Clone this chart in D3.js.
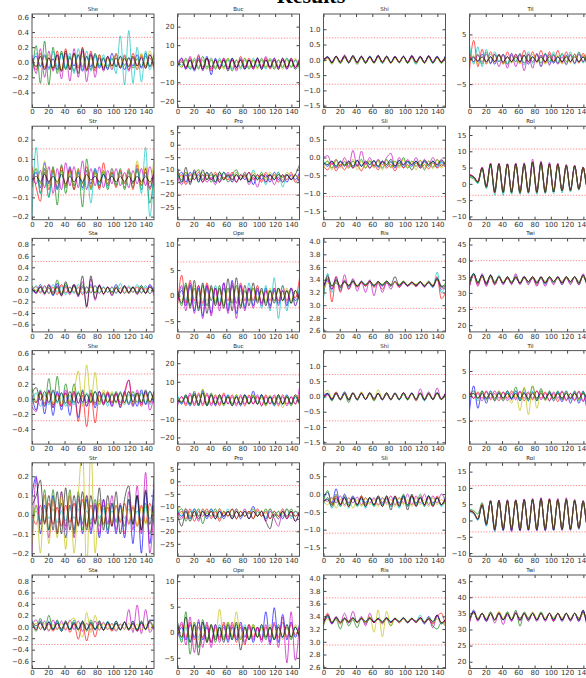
<!DOCTYPE html>
<html>
<head>
<meta charset="utf-8">
<script src="https://cdn.jsdelivr.net/npm/d3@7"></script>
<style>
  body { margin: 0; background: #fff; }
  svg { display: block; }
  .tick text { font-family: "DejaVu Sans", sans-serif; fill: #333; }
</style>
</head>
<body>
<script>
// sample positions along the time axis
var xs = [0,5.2,10.3,15.5,20.7,25.9,31,36.2,41.4,46.6,51.7,56.9,62.1,67.2,72.4,77.6,82.8,87.9,93.1,98.3,103.4,108.6,113.8,119,124.1,129.3,134.5,139.7,144.8,150];
var xTicks = [0,20,40,60,80,100,120,140];

var titles = ["She","Buc","Shi","Til","Str","Pro","Sli","Rol","Sta","Ope","Ris","Twi"];
var yDomains = [[-0.6,0.64],[-23.6,26.8],[-1.56,1.5],[-9.7,9.1],[-0.216,0.27],[-30,7.4],[-1.75,0.88],[-11,17.7],[-0.73,0.905],[-7.1,11.2],[2.58,4.05],[17.9,46.9]];
var yTicks = [[-0.4,-0.2,0,0.2,0.4,0.6],[-20,-10,0,10,20],[-1.5,-1,-0.5,0,0.5,1],[-5,0,5],[-0.2,-0.1,0,0.1,0.2],[-25,-20,-15,-10,-5,0,5],[-1.5,-1,-0.5,0,0.5],[-10,-5,0,5,10,15],[-0.6,-0.4,-0.2,0,0.2,0.4,0.6,0.8],[-5,0,5,10],[2.6,2.8,3,3.2,3.4,3.6,3.8,4],[20,25,30,35,40,45]];
var yDecimals = [1,0,1,0,1,0,1,0,1,0,1,0];
var limits = [[0.33,-0.29],[13.8,-11.2],[0.72,-0.8],[4.3,-5],[0.152,-0.087],[-1.7,-20],[0.24,-1.1],[10.7,-3.5],[0.5,-0.31],[6.6,-2.4],[3.69,2.95],[40,25.4]];

var colors = ["#0000ff","#008000","#ff0000","#00bfbf","#bf00bf","#bfbf00","#000000"];

// each panel: 7 runs (b, g, r, c, m, y, k)
var she1 = [
 [0,.08,-.06,.1,-.08,.05,-.1,.12,-.08,.06,-.05,.1,-.12,.08,-.06,.1,-.08,.05,-.1,.12,-.06,.08,-.1,.06,-.05,.1,-.08,.12,-.06,.08],
 [-.2,.22,-.28,.28,-.3,.2,-.15,.15,-.1,.08,-.12,.1,-.06,.08,-.1,.12,-.05,.06,-.08,.05,-.06,.08,-.04,.06,-.08,.05,-.06,.08,-.05,.1],
 [.05,-.1,.12,-.08,.06,-.1,.15,-.12,.18,-.1,.12,-.08,.2,-.1,.15,-.12,.1,-.08,.06,-.05,.1,-.06,.08,-.1,.12,-.05,.1,-.08,.06,-.1],
 [-.1,.12,-.05,.08,-.1,.15,-.06,.1,-.08,.12,-.15,.18,-.1,.15,-.12,.08,-.06,.1,-.05,.06,-.15,.35,-.3,.42,-.28,.2,-.26,.15,-.1,.12],
 [.1,-.15,.18,-.2,.15,-.12,.1,-.22,.12,-.25,.18,-.2,.15,-.26,.12,-.2,.1,-.12,.08,-.1,.12,-.08,.1,-.12,.06,-.1,.08,-.05,.1,-.06],
 [.02,-.05,.08,-.06,.1,-.08,.05,-.1,.08,-.06,.1,-.05,.08,-.1,.06,-.08,.1,-.06,.05,-.08,.12,-.06,.1,-.05,.08,-.1,.12,-.06,.15,-.08],
 [.05,-.06,.08,-.1,.06,-.08,.1,-.12,.15,-.1,.12,-.15,.18,-.12,.1,-.08,.06,-.1,.08,-.05,.06,-.08,.05,-.06,.08,-.05,.06,-.08,.1,-.06]
];
var buc1 = [
 [-2,3,-3,2,-4,3,-3,4,-6,3,-2,2,-3,3,-2,2,-3,2,-2,3,-3,2,-2,3,-2,2,-3,3,-2,2],
 [1,-2,3,-3,2,-3,4,-2,3,-3,2,-2,3,-4,2,-2,3,-3,2,-2,3,-2,2,-3,2,-2,3,-2,2,-3],
 [-1,2,-2,3,-3,4,-2,3,-4,2,-3,3,-2,2,-3,4,-2,3,-3,2,-2,3,-3,2,-3,2,-2,3,-2,2],
 [2,-1,2,-3,3,-2,2,-3,2,-2,3,-2,2,-3,2,-3,2,-2,3,-2,2,-3,3,-2,2,-2,3,-2,2,-2],
 [0,3,-3,4,-3,5,-4,3,-3,2,-2,3,-3,2,-4,3,-2,2,-3,3,-2,4,-2,3,-2,3,-3,2,-2,3],
 [1,-2,2,-2,3,-2,2,-3,2,-2,2,-3,3,-2,2,-2,3,-2,2,-3,2,-2,3,-2,2,-3,2,-2,3,-2],
 [-1,1,-2,2,-3,2,-3,3,-2,2,-3,2,-4,3,-2,2,-3,2,-2,3,-3,2,-2,2,-3,3,-2,2,-3,2]
];
var shi1 = [
 [0,.1,-.08,.12,-.1,.15,-.1,.12,-.08,.1,-.1,.12,-.08,.15,-.1,.12,-.08,.1,-.1,.12,-.1,.15,-.08,.12,-.1,.14,-.08,.12,-.1,.15],
 [-.05,.08,-.1,.1,-.12,.1,-.08,.12,-.1,.08,-.12,.1,-.08,.1,-.1,.08,-.1,.1,-.08,.1,-.1,.08,-.12,.1,-.08,.1,-.1,.08,-.1,.1],
 [.02,.06,-.1,.1,-.05,.15,-.08,.08,-.1,.1,-.06,.1,-.1,.12,-.06,.1,-.1,.08,-.06,.1,-.08,.12,-.06,.1,-.08,.12,-.1,.08,-.06,.1],
 [-.08,.1,-.12,.08,-.1,.12,-.1,.08,-.15,.1,-.08,.12,-.1,.1,-.12,.1,-.08,.12,-.1,.1,-.12,.08,-.15,.1,-.1,.08,-.12,.1,-.1,.12],
 [0,.08,-.06,.1,-.08,.12,-.05,.1,-.1,.12,-.08,.1,-.06,.12,-.08,.1,-.1,.12,-.08,.1,-.06,.12,-.1,.1,-.08,.12,-.06,.1,-.08,.1],
 [-.1,.05,-.15,.08,-.12,.06,-.1,.08,-.15,.06,-.1,.05,-.12,.08,-.1,.06,-.12,.05,-.1,.08,-.12,.06,-.1,.05,-.12,.08,-.1,.06,-.12,.05],
 [-.02,.1,-.1,.12,-.08,.1,-.1,.15,-.08,.12,-.1,.1,-.1,.14,-.08,.12,-.1,.1,-.08,.12,-.1,.12,-.08,.1,-.1,.12,-.1,.1,-.08,.12]
];
var til1 = [
 [0,.5,-.5,1,-.5,.5,-1,1,-.8,.5,-.5,1,-.5,.8,-1,.5,-.5,.8,-.5,1,-.8,.5,-.5,.8,-.5,1,-.5,.5,-.8,1],
 [1.5,-.5,1,-1,1.5,-.8,1,-.5,1,-1,.8,-.5,1.2,-.8,1,-.5,1,-.8,1.2,-.5,1,-.8,1.2,-.5,1,-.8,1.5,-.5,1,-.8],
 [-2.2,3.8,-1.5,2,-1,1.5,-.5,1,-1,1.5,-.5,1,-.8,1.8,-.5,1.5,-.5,1.8,-.8,1.5,-.5,1.8,-.8,1.5,-.5,1,-.8,1.2,-.5,1],
 [3,-1,2.5,-1.5,2,-1,1.5,-.5,1,-1,1.2,-.5,1,-1.2,1.5,-.8,1,-1.5,1.2,-1,1.5,-.8,1,-1.2,1.5,-1,1.2,-.8,1.5,-1],
 [.5,-.5,.8,-.5,1,-.8,1,-1.5,1,-1.8,1.2,-1.5,1,-2.3,1,-1.8,1.2,-1.5,1,-1.2,.8,-1,.5,-1,.8,-.8,1,-.5,.8,-.5],
 [-.5,.8,-1,.5,-.8,1,-.5,.8,-1,.5,-.8,.5,-1,.8,-.5,1,-.8,.5,-1,.8,-.5,.8,-1,.5,-.8,1,-.5,.8,-1,.5],
 [0,.3,-.3,.5,-.5,.5,-.5,.8,-.5,.5,-.5,.5,-.5,.8,-.5,.5,-.5,.5,-.5,.5,-.5,.5,-.5,.5,-.5,.5,-.5,.5,-.5,.5]
];
var str2 = [
 [-.02,.03,-.05,.08,-.03,.05,-.06,.04,-.05,.06,-.04,.03,-.05,.04,-.03,.05,-.04,.02,-.03,.05,-.04,.03,-.05,.04,-.03,.05,-.04,.03,-.05,.04],
 [-.05,.05,-.08,.03,-.1,.06,-.14,.07,-.08,.04,-.06,.05,-.15,.1,-.06,.03,-.05,.04,-.06,.03,-.04,.05,-.06,.03,-.05,.04,-.06,.05,-.13,.03],
 [.06,-.05,-.12,.05,-.06,.04,-.05,.06,-.04,.05,-.06,.04,-.03,.06,-.05,.04,-.06,.08,-.04,.03,-.05,.04,-.03,.05,-.06,.07,-.04,.05,-.06,.04],
 [-.2,.16,-.08,.05,-.1,.03,-.06,.04,-.05,.02,-.04,.03,-.06,.04,-.13,.05,-.04,.03,-.05,.02,-.04,.03,-.05,.04,-.03,.05,-.08,.16,-.2,.05],
 [.02,-.03,.04,-.05,.06,-.08,.05,-.06,.08,-.04,.06,-.05,.09,-.06,.05,-.04,.06,-.05,.04,-.03,.05,-.04,.03,-.05,.04,-.03,.05,-.04,.06,-.05],
 [.02,.05,-.03,.09,-.04,.05,-.03,.04,-.05,.03,-.04,.05,-.03,.04,-.05,.03,-.02,.04,-.03,.05,-.04,.03,-.05,.04,-.03,.09,-.04,.06,-.03,.1],
 [-.01,.01,-.02,.02,-.02,.01,-.02,.02,-.03,.01,-.02,.01,-.02,.02,-.01,.01,-.02,.02,-.01,.01,-.02,.01,-.02,.01,-.02,.01,-.02,.01,-.02,.02]
];
var pro2 = [
 [-13,-11,-15,-11,-14,-12,-15,-11,-14,-12,-15,-11,-13,-12,-15,-12,-14,-11,-16,-12,-14,-12,-15,-11,-14,-12,-15,-12,-14,-11],
 [-12,-14,-11,-15,-12,-10,-14,-11,-15,-12,-14,-11,-15,-12,-10,-14,-12,-15,-12,-14,-11,-15,-12,-14,-11,-15,-12,-14,-12,-15],
 [-14,-12,-16,-12,-14,-11,-15,-12,-14,-11,-15,-13,-14,-11,-15,-12,-13,-11,-14,-12,-15,-11,-14,-12,-15,-12,-14,-11,-15,-12],
 [-12,-15,-12,-14,-11,-15,-12,-14,-12,-15,-11,-14,-12,-15,-11,-14,-12,-15,-10,-14,-12,-16,-12,-14,-11,-17,-12,-14,-12,-15],
 [-13,-16,-12,-15,-11,-14,-12,-15,-13,-16,-12,-14,-11,-15,-12,-14,-12,-16,-13,-17,-12,-15,-12,-16,-13,-15,-12,-14,-12,-15],
 [-11,-13,-11,-14,-12,-13,-11,-14,-12,-13,-11,-14,-12,-14,-11,-13,-12,-14,-11,-13,-12,-14,-11,-13,-12,-14,-11,-13,-12,-14],
 [-9,-15,-9,-16,-10,-15,-10,-14,-11,-15,-11,-14,-12,-14,-12,-14,-11,-15,-12,-14,-12,-13,-12,-14,-12,-13,-12,-14,-12,-8]
];
var sli2 = [
 [-.15,-.25,-.1,-.3,-.12,-.25,-.1,-.3,-.08,-.25,-.12,-.3,-.1,-.28,-.1,-.25,-.12,-.3,-.08,-.28,-.12,-.25,-.1,-.3,-.12,-.25,-.1,-.28,-.12,-.25],
 [-.2,-.1,-.3,-.08,-.25,-.12,-.3,-.1,-.25,-.05,-.3,-.1,-.25,-.08,-.3,-.05,-.28,-.1,-.25,0,-.3,-.1,-.25,-.08,-.35,-.1,-.28,-.05,-.25,-.1],
 [-.25,-.35,-.15,-.38,-.2,-.35,-.15,-.3,-.2,-.38,-.15,-.3,-.2,-.35,-.12,-.3,-.2,-.38,-.15,-.3,-.2,-.35,-.15,-.3,-.2,-.32,-.15,-.3,-.2,-.28],
 [-.1,-.2,-.12,-.25,-.1,-.2,-.15,-.25,-.1,-.22,-.15,-.2,-.1,-.25,-.12,-.2,-.1,-.25,-.15,-.2,-.1,-.35,-.12,-.2,-.1,-.25,-.12,-.2,-.15,-.25],
 [0,.05,-.2,-.05,-.25,0,-.25,.2,-.25,.18,-.2,0,-.25,-.05,-.2,0,.12,-.25,0,-.2,-.05,-.2,0,-.25,-.05,-.2,0,-.2,-.05,-.25],
 [-.3,-.1,-.35,-.05,-.3,-.1,-.3,-.05,-.35,-.1,-.3,-.08,-.3,-.1,-.35,-.08,-.3,-.1,-.3,-.05,-.3,-.1,-.35,-.08,-.3,-.1,-.32,-.05,-.3,-.1],
 [-.15,-.2,-.1,-.25,-.1,-.22,-.1,-.25,-.08,-.25,-.1,-.2,-.08,-.25,-.1,-.2,-.05,-.25,-.08,-.22,-.1,-.2,-.1,-.25,-.08,-.2,-.1,-.22,-.08,-.2]
];
var rol2 = [
 [2.5,2,.5,4.8,-1,6,-2.5,6,-2.5,6,-2.5,6,-2.5,6,-2.5,6.5,-2.5,6.5,-2.5,6,-2.5,6,-2,5.5,-2,5.5,-1.5,5,-1,1],
 [2,1.5,.3,4.5,-1.2,5.5,-2,5.8,-2.2,6,-2,5.8,-2.5,5.5,-2,6,-2.2,6,-2,5.8,-2,5.5,-2,5.5,-1.8,5.2,-1.5,5,-.8,.5],
 [3,2.2,.8,5,-.8,6.2,-2.8,6.2,-2.8,6,-2.8,6.2,-3,6,-2.8,6.8,-2.8,6.5,-2.8,6.2,-2.5,6.2,-2.2,5.8,-2.2,5.5,-1.8,5,-1,1.2],
 [2.2,1.8,0,4.6,-1.5,5.8,-3.5,6,-3.5,5.8,-3.2,6,-3.2,6.2,-3,6.5,-3.2,6.2,-3,6,-3,5.8,-2.8,5.5,-2.5,5.2,-2,4.8,-1.2,.8],
 [2.8,2.2,.6,5.2,-.5,6.4,-2.2,6.4,-2,6.2,-2.2,6.4,-2,6.5,-2.2,7.6,-2,7,-2.2,6.6,-2,6.3,-1.8,6,-1.8,5.8,-1.5,5.2,-.8,1.5],
 [2.4,2,.4,4.7,-1.1,5.9,-2.4,5.9,-2.4,5.9,-2.4,5.9,-2.6,5.9,-2.4,6.3,-2.4,6.3,-2.4,6,-2.4,5.9,-2.1,5.6,-2,5.4,-1.6,5,-1,1],
 [2.6,2.1,.5,4.9,-1,6.1,-2.6,6.1,-2.6,6.1,-2.6,6.1,-2.7,6.1,-2.6,6.6,-2.6,6.5,-2.6,6.1,-2.5,6,-2.1,5.6,-2,5.5,-1.6,5,-1,1]
];
var sta3 = [
 [.05,-.05,.1,-.05,.08,-.1,.12,-.06,.08,-.05,.1,-.08,.05,-.06,.1,-.05,.08,-.06,.05,-.04,.1,-.05,.08,-.06,.05,-.04,.08,-.05,.1,-.04],
 [.08,-.02,.05,-.06,.1,-.04,.18,-.08,.12,-.05,.1,-.06,.08,-.04,.06,-.05,.08,-.06,.05,-.04,.06,-.05,.08,-.04,.06,-.05,.08,-.06,.05,-.02],
 [0,.06,-.05,.08,-.06,.05,-.08,.1,-.05,.06,-.04,.05,-.08,.06,-.05,.08,-.06,.05,-.04,.06,-.05,.04,-.06,.05,-.04,.06,-.05,.04,-.06,.05],
 [-.05,.08,-.03,.06,-.05,.1,-.04,.06,-.08,.05,-.06,.1,-.05,.06,-.04,.08,-.05,.06,-.04,.05,-.06,.12,-.05,.08,-.04,.1,-.05,.08,-.06,.05],
 [.03,-.06,.05,-.08,.1,-.05,.08,-.1,.05,-.08,.1,-.12,.15,-.28,.2,-.18,.1,-.08,.06,-.1,.05,-.06,.08,-.05,.06,-.08,.05,-.06,.08,-.1],
 [.05,0,.06,-.04,.05,-.06,.04,-.05,.06,-.04,.05,-.06,.04,-.05,.06,-.04,.05,-.06,.04,-.05,.06,-.04,.05,-.06,.04,-.05,.06,-.04,.05,-.06],
 [.02,-.04,.06,-.05,.04,-.08,.06,-.1,.15,-.05,.08,-.1,.25,-.3,.25,-.15,.08,-.06,.05,-.08,.04,-.05,.06,-.04,.05,-.06,.04,-.05,.06,-.04]
];
var ope3 = [
 [-1,1,-2,2,-3,1.5,-4,2,-3.5,1.5,-2,2.5,-3,3,-3.5,2,-2.5,1.5,-2,1,-1.5,1.5,-2,1,-1.5,1,-2,1.5,-1,.5],
 [1,-2,2.5,-2,1.5,-2.5,2,-2,1.5,-1.5,2,-2,1.5,-1.5,2,-2,1,-1,1.5,-1,1,-1.5,1,-1,1.5,-1,1,-1.5,1,-1],
 [-2,4,-1.5,3,-1,2,-1.5,2.5,-1,1.5,-2,1.5,-1,2,-1.5,2.5,-1,1.5,-1,2,-1.5,1,-1,1.5,-1,2,-1,1.5,-.5,3.5],
 [0,1.5,-1,2,-1.5,1,-2,1.5,-1,2,-1.5,1.5,-2,2,-1.5,1,-2,2.5,-2,1.5,-2.5,2,-3,3.5,-4.5,2,-3,1.5,-2,2],
 [-1.5,2,-3,2.5,-3.5,2,-4.5,2,-4,1.5,-3,2.5,-3.5,2.5,-4.5,2,-3,1.5,-2.5,1.5,-2,1,-2.5,1.5,-2,1,-1.5,1.5,-2,1],
 [.5,-1,1.5,-1,2,-1.5,1,-1,1.5,-1,1,-1.5,1,-1,1.5,-1,1,-1,1.5,-1,1,-1,1.5,-1,1,-1,1.5,-1,1,-1],
 [1,-1.5,2,-2.5,3,-3,2.5,-3.5,2,-2,1.5,-2.5,3.3,-3,3.5,-2.5,2,-2,2.5,-1.5,1.5,-2,1,-1.5,1.5,-1,1,-1.5,1,-1]
];
var ris3 = [
 [3.3,3.4,3.25,3.38,3.28,3.36,3.3,3.37,3.3,3.36,3.3,3.37,3.3,3.36,3.3,3.37,3.31,3.36,3.31,3.37,3.3,3.36,3.31,3.37,3.3,3.36,3.28,3.42,3.3,3.25],
 [3.2,3.42,3.3,3.35,3.28,3.38,3.3,3.4,3.3,3.36,3.32,3.38,3.3,3.37,3.31,3.38,3.3,3.37,3.32,3.38,3.31,3.36,3.32,3.37,3.3,3.38,3.3,3.4,3.28,3.35],
 [3.15,3.48,3.05,3.45,3.2,3.4,3.25,3.36,3.28,3.35,3.3,3.36,3.28,3.34,3.25,3.35,3.3,3.36,3.28,3.35,3.3,3.34,3.29,3.36,3.3,3.35,3.3,3.45,3.1,3.2],
 [3.1,3.5,3.2,3.42,3.25,3.38,3.28,3.36,3.3,3.38,3.32,3.36,3.3,3.37,3.31,3.36,3.3,3.37,3.31,3.36,3.3,3.35,3.31,3.36,3.3,3.35,3.28,3.52,3.2,3.3],
 [3.3,3.38,3.25,3.45,3.22,3.48,3.25,3.42,3.22,3.38,3.2,3.4,3.15,3.38,3.2,3.36,3.25,3.38,3.28,3.36,3.3,3.37,3.3,3.36,3.28,3.37,3.3,3.4,3.25,3.3],
 [3.25,3.35,3.3,3.38,3.3,3.36,3.32,3.37,3.31,3.36,3.32,3.37,3.32,3.36,3.33,3.37,3.32,3.36,3.33,3.37,3.32,3.36,3.33,3.37,3.32,3.36,3.32,3.4,3.3,3.25],
 [3.28,3.45,3.3,3.4,3.3,3.37,3.31,3.38,3.3,3.37,3.32,3.38,3.31,3.37,3.32,3.38,3.32,3.45,3.3,3.37,3.31,3.36,3.31,3.37,3.3,3.36,3.3,3.42,3.3,3.3]
];
var twi3 = [
 [32.5,36,33,35.5,32.5,35.5,33,35,33,35,33,34.5,33,35,33.5,35,33.5,34.5,33,35,33.5,34.5,33.5,35,33.5,35,33,35.5,33,35],
 [33,35.5,33.5,35,33,35.5,33.5,35,33,34.5,33.5,35,33,34.5,33.5,35,33,34.5,33.5,35,33.5,34.5,33,35,33.5,35,33.5,35,33,35.5],
 [32,35.5,32.5,35,32.5,35,32.5,35,33,34.5,33,35,33,35,33,34.5,32.5,35,33,35,33,35,33,34.5,33,35,32.5,35.5,33,35],
 [32.5,36,33,35.5,33,35,33,35.5,33,35,33,35.5,33,35,33,35,33,35,32.5,35,33,35,32.5,35,33,35,32.5,35.5,32.5,35],
 [32,35.5,32,36,32,35.5,32.5,35,32.5,35,32.5,36,32.5,35,32.5,35,32,35,32,34.5,32.5,35,32.5,35,32.5,35,32.5,36,32.5,35],
 [33,35.5,33,35,33.5,35,33,35,33.5,35,33,35,33.5,34.5,33.5,35,33.5,34.5,33.5,35,33.5,34.5,33.5,35,33.5,35,33,35.5,33,35],
 [33,36,33,35.5,33,35.5,33,35,33,35,33,35,33,35,33.5,35,33,35,33,35,33.5,35,33,35,33.5,35,33,35.5,33,35.5]
];
var she4 = [
 [.05,-.15,.1,-.2,.12,-.22,.1,-.15,.08,-.22,.1,-.25,.12,-.1,.08,-.12,.1,-.08,.06,-.1,.08,-.12,.1,-.08,.06,-.1,.12,-.08,.1,-.06],
 [.15,-.05,.12,-.1,.27,-.12,.3,-.1,.2,-.05,.2,-.06,.1,-.05,.12,-.06,.1,-.05,.08,-.06,.1,-.05,.08,-.06,.1,-.05,.08,-.06,.1,-.05],
 [0,-.05,.08,-.06,.1,-.08,.06,-.1,.08,-.1,.1,-.3,.05,-.37,.08,-.32,.05,-.08,.1,-.05,.08,-.1,.06,.25,-.08,.06,-.1,.08,-.06,.1],
 [-.05,.08,-.1,.06,-.08,.1,-.06,.08,-.1,.05,-.08,.1,-.06,.08,-.05,.1,-.08,.06,-.1,.08,-.06,.1,-.08,.06,-.1,.08,-.06,.1,-.08,.06],
 [-.1,-.17,.08,-.1,.1,-.12,.08,-.1,.12,-.08,.1,-.06,.08,-.1,.06,-.08,.1,-.06,.08,-.1,.06,-.08,.1,.25,-.1,.12,-.08,.1,-.15,.05],
 [.05,-.02,.06,-.05,.08,-.06,.05,-.08,.06,-.05,.1,.37,-.1,.45,-.05,.35,-.08,.12,-.05,.1,-.06,.08,-.05,.1,-.06,.08,-.05,.06,-.04,.08],
 [.08,.15,-.02,.1,-.05,.12,-.04,.08,-.06,.1,-.05,.08,-.04,.06,-.05,.1,-.04,.08,-.05,.06,-.04,.08,-.05,.1,-.04,.08,-.05,.12,-.04,.1]
];
var buc4 = [
 [1,-2,3,-3,4,-3,5,-2,3,-3,2,-2,3,-2,2,-3,3,-2,5,-2,3,-2,2,-3,2,-2,3,-2,2,-2],
 [2,-1,3,-2,5,-3,6,-3,4,-2,3,-2,2,-3,3,-2,2,-2,3,-2,2,-3,2,-2,3,-2,2,-3,2,-2],
 [-1,2,-3,3,-2,4,-3,3,-2,3,-3,4,-2,3,-2,2,-3,3,-2,2,-3,3,-2,2,-3,3,-2,2,-2,3],
 [3,-2,2,-3,3,-2,4,-3,3,-2,2,-3,3,-2,2,-2,3,-2,2,-2,3,-2,2,-3,2,-2,3,-2,2,-2],
 [-3,2,-2,4,-3,3,-2,4,-3,2,-2,3,-2,2,-3,3,-2,2,-2,3,-3,2,-2,3,-2,2,-3,2,-2,7],
 [1,-1,2,-2,3,-2,6,-2,3,-2,2,-3,2,-2,3,-2,2,-2,3,-2,2,-3,3,-2,2,-4,2,-2,3,-2],
 [0,-1,2,-2,3,-2,4,-3,3,-2,3,-2,2,-3,2,-2,3,-2,2,-2,3,-2,2,-2,3,-2,2,-2,3,-2]
];
var shi4 = [
 [.05,.1,-.1,.12,-.08,.15,-.1,.12,-.12,.1,-.1,.12,-.08,.1,-.12,.1,-.08,.12,-.1,.1,-.08,.12,-.1,.1,-.12,.1,-.08,.12,-.1,.1],
 [-.05,.08,-.15,.1,-.12,.08,-.2,.1,-.1,.12,-.1,.08,-.15,.1,-.1,.08,-.12,.1,-.1,.08,-.12,.1,-.08,.1,-.12,.08,-.1,.1,-.08,.1],
 [0,.06,-.08,.15,-.1,.12,-.08,.1,-.12,.1,-.08,.12,-.1,.1,-.08,.12,-.1,.08,-.1,.12,-.08,.1,-.15,.1,-.12,.08,-.1,.12,-.08,.1],
 [-.1,.08,-.12,.1,-.1,.12,-.08,.1,-.12,.08,-.1,.12,-.08,.1,-.1,.12,-.1,.08,-.12,.1,-.08,.1,-.12,.08,-.15,.1,-.1,.12,-.1,.08],
 [0,.05,-.1,.08,-.08,.1,-.12,.1,-.08,.12,-.1,.1,-.06,.1,-.1,.08,-.1,.1,-.08,.12,-.06,.1,-.1,.25,-.08,.15,-.1,.28,-.08,.12],
 [.1,.2,-.05,.12,-.1,.1,-.08,.12,-.1,.15,-.08,.1,-.1,.22,-.08,.12,-.1,.1,-.08,.1,-.1,.08,-.1,.1,-.08,.1,-.06,.08,-.1,.05],
 [-.02,.1,-.1,.12,-.1,.1,-.12,.12,-.1,.1,-.1,.12,-.1,.1,-.1,.12,-.1,.1,-.1,.12,-.1,.1,-.1,.12,-.1,.1,-.1,.12,-.1,.1]
];
var til4 = [
 [-3,2,-2.5,1,-1.5,1,-1,.8,-1,1,-.8,1,-1,.8,-1,.8,-1,1,-.8,.8,-1,.8,-1.2,1,-1.5,.8,-1.5,1,-2.5,1.7],
 [0,1,-.5,1,-.8,.5,-1,1,-.5,1,-.5,1.8,-1,1.5,-.8,2,-1,1.5,-.8,1,-.5,1,-.8,.8,-.5,1,-.8,.8,-.5,1],
 [.5,-.5,.8,-.5,1,-.8,.5,-1,.8,-.5,1,-.5,.8,-1,.5,-.8,1,-.5,.8,-1,.5,-1.2,.8,-1,.5,-.8,1,-1,.5,-.5],
 [-.5,.5,-1,.8,-.5,1,-.8,.5,-1,.8,-.5,1,-.8,.5,-1,.8,-.5,1,-.8,.5,-1,.8,-.5,1,-.8,.5,-1,.8,-1.5,1],
 [1,-.5,.5,-1,.8,-.5,1,-.5,.8,-1,.5,-.8,1,-.5,.8,-.5,1,-.8,.5,-1,.8,-.5,1,-.8,.5,-1,.8,-1.2,.5,-2],
 [0,.5,-.5,.8,-.5,.5,-.8,1,-1,.5,-1.5,.5,-3,1.8,-3.8,2,-2.5,1,-1,.5,-.8,.5,-.5,.8,-.5,.5,-.8,.5,-.5,.5],
 [.2,.5,-.5,.5,-.5,.5,-.5,.5,-.5,.5,-.5,.5,-.5,.5,-.5,.5,-.5,.5,-.5,.5,-.5,.5,-.5,.5,-.5,.5,-.5,.5,-.5,.5]
];
var str5 = [
 [.1,.2,-.1,.05,-.08,.1,-.1,.06,-.12,.05,-.08,.1,-.1,.08,-.1,.05,-.12,.08,-.1,.06,-.1,.05,-.12,.08,-.15,.1,-.2,.12,-.15,.2],
 [-.1,.05,-.05,.13,-.08,.13,-.1,.12,-.06,.13,-.1,.12,-.08,.1,-.05,.08,-.06,.05,-.08,.06,-.04,.05,-.06,.08,-.05,.1,-.08,.06,-.1,.05],
 [0,-.05,.05,-.04,.06,-.05,.04,-.06,.05,-.04,.06,-.05,.08,-.06,.05,-.04,.06,-.05,.04,-.06,.05,-.04,.06,-.05,.04,-.06,.05,-.04,.06,-.05],
 [-.05,.02,-.03,.04,-.02,.03,-.04,.02,-.03,.04,-.02,.03,-.04,.02,-.03,.04,-.02,.03,-.04,.02,-.03,.04,-.02,.03,-.04,.02,-.03,.04,-.02,.03],
 [-.2,.19,-.05,.1,-.12,.08,-.1,.12,-.08,.1,-.12,.08,-.05,.1,-.08,.06,-.1,.08,-.05,.1,-.08,.06,-.1,.12,-.08,.15,-.1,.22,-.2,.05],
 [-.15,.05,-.2,.1,-.15,.08,-.12,.1,-.18,.12,-.2,.1,.35,-.3,.35,-.2,.08,-.05,.06,-.04,.05,-.03,.06,-.04,.05,-.06,.04,-.05,.03,-.02],
 [.05,.1,.18,-.05,.1,-.08,.12,-.1,.14,-.08,.1,-.06,.12,-.08,.1,-.05,.14,-.08,.1,-.06,.12,-.1,.08,.15,-.05,.1,-.08,.13,-.05,.13]
];
var pro5 = [
 [-12,-14,-11,-15,-11,-14,-12,-15,-11,-14,-12,-15,-12,-14,-11,-15,-12,-13,-10,-14,-12,-15,-11,-14,-12,-15,-11,-14,-12,-14],
 [-13,-11,-16,-12,-14,-11,-17,-12,-14,-11,-15,-12,-14,-11,-15,-12,-14,-12,-15,-12,-14,-11,-15,-12,-14,-12,-15,-11,-14,-12],
 [-14,-12,-15,-11,-16,-12,-14,-11,-15,-12,-16,-12,-14,-11,-15,-12,-14,-12,-15,-11,-14,-12,-15,-12,-14,-11,-15,-12,-14,-12],
 [-11,-14,-12,-15,-11,-14,-12,-14,-11,-15,-12,-14,-11,-15,-12,-14,-12,-15,-11,-14,-12,-15,-11,-14,-12,-14,-11,-15,-12,-13],
 [-12,-15,-11,-14,-12,-16,-11,-14,-12,-15,-11,-14,-12,-15,-12,-14,-11,-15,-12,-14,-12,-16,-12,-15,-18,-12,-15,-12,-16,-12],
 [-10,-13,-11,-14,-12,-14,-11,-13,-12,-14,-11,-13,-12,-14,-11,-14,-12,-13,-11,-14,-12,-13,-11,-14,-12,-13,-11,-14,-12,-13],
 [-13,-18,-12,-16,-12,-15,-12,-14,-12,-15,-12,-14,-12,-15,-12,-14,-12,-15,-12,-14,-12,-16,-19,-13,-15,-12,-14,-12,-16,-12]
];
var sli5 = [
 [-.1,.05,-.25,.15,-.3,0,-.25,-.05,-.3,-.1,-.25,-.1,-.3,-.05,-.25,-.1,-.3,-.1,-.25,-.05,-.3,-.05,-.25,-.1,-.3,-.05,-.25,-.1,-.3,-.1],
 [-.2,.1,-.3,0,-.35,-.05,-.3,-.1,-.35,-.05,-.3,-.1,-.35,-.05,-.3,-.05,-.35,-.1,-.3,0,-.35,-.05,-.3,0,-.35,-.05,-.3,-.1,-.3,-.05],
 [-.25,-.1,-.3,-.05,-.28,-.1,-.35,-.1,-.3,-.05,-.35,-.1,-.3,-.08,-.35,-.1,-.3,-.05,-.35,-.1,-.3,-.05,-.35,-.08,-.3,-.1,-.35,-.05,-.3,-.15],
 [-.3,-.1,-.4,-.15,-.35,-.1,-.4,-.1,-.35,-.15,-.4,-.1,-.35,-.1,-.3,-.15,-.35,-.1,-.4,-.05,-.35,-.1,-.3,-.1,-.35,-.05,-.3,-.1,-.35,-.2],
 [-.15,-.2,-.1,-.25,-.05,-.3,-.1,-.25,-.08,-.3,-.1,-.25,-.1,-.3,-.1,-.25,-.05,-.3,-.1,-.25,0,-.3,-.05,-.25,0,-.3,-.05,-.25,0,-.2],
 [-.2,-.3,-.1,-.4,-.15,-.35,-.1,-.4,-.15,-.35,-.1,-.3,-.15,-.35,-.1,-.3,-.15,-.35,-.1,-.3,-.15,-.35,-.1,-.3,-.15,-.35,-.1,-.3,-.15,-.3],
 [-.2,-.15,-.35,-.1,-.3,-.1,-.35,-.1,-.3,-.1,-.35,-.1,-.3,-.1,-.35,-.05,-.45,-.05,-.35,-.05,-.45,0,-.35,-.1,-.3,-.05,-.35,-.1,-.3,-.15]
];
var rol5 = [
 [3,2.5,.3,4.8,-1.5,6,-3,6.2,-3,6,-3,6.2,-3,6.5,-3,6.5,-3,6.8,-3,6.5,-3,6.5,-2.8,6.5,-2.8,6.2,-2.5,6,-1.5,2],
 [3.5,3,2,5.5,-.5,5.8,-2,5.5,-2,5.5,-2,6,-2,6,-2.2,6.2,-2,6.5,-2.2,6.5,-2,6.3,-2,6.5,-2,6,-2,5.5,-1,2.5],
 [2.8,2.2,.5,5,-1,6,-2.5,6,-2.5,6,-2.5,6.2,-2.8,6.2,-2.5,6.5,-2.5,6.5,-2.5,6.5,-2.5,6.2,-2.5,6.2,-2.5,6,-2,5.8,-1.2,1.5],
 [2.5,2,0,4.5,-1.8,5.8,-3.5,5.8,-3.2,6,-3.2,6,-3.2,6.2,-3,6.2,-3,6.5,-3,6.2,-3,6.2,-3,6.2,-3,6,-2.8,5.8,-1.5,1.5],
 [3,2.4,.4,4.9,-1.2,6.2,-3,6.2,-3,6.4,-3.5,6.4,-3.2,6.6,-3,6.8,-3.2,7,-3.2,6.8,-3,6.8,-3,7,-3,6.5,-2.5,6.2,-1.8,1.8],
 [3.2,2.6,.6,5,-1,6,-2.6,6,-2.6,6,-2.6,6.2,-2.6,6.2,-2.6,6.4,-2.6,6.6,-2.6,6.4,-2.6,6.4,-2.6,6.4,-2.6,6.2,-2.2,6,-1.4,2],
 [3,2.4,.4,4.8,-1.2,6,-2.8,6.1,-2.8,6.1,-2.8,6.2,-2.9,6.3,-2.8,6.4,-2.8,6.6,-2.8,6.4,-2.8,6.3,-2.7,6.4,-2.7,6.1,-2.3,5.9,-1.4,1.8]
];
var sta6 = [
 [.08,-.05,.1,-.06,.08,-.05,.1,-.08,.06,-.05,.08,-.06,.1,-.05,.08,-.06,.1,-.05,.08,-.06,.1,-.05,.08,-.06,.1,-.08,.06,-.05,.1,.12],
 [.1,-.08,.15,-.06,.2,-.05,.12,-.08,.1,-.05,.12,-.06,.1,-.08,.12,-.05,.1,-.06,.08,-.05,.1,-.06,.08,-.05,.1,-.06,.08,-.05,.1,-.04],
 [.05,-.05,.08,-.06,.05,-.08,.06,-.05,.1,-.1,.05,-.22,.06,-.25,.05,-.18,.08,-.06,.05,-.08,.06,-.05,.08,-.06,.05,-.08,.06,-.05,.08,-.06],
 [.12,-.02,.08,-.05,.1,-.04,.08,-.06,.1,-.05,.08,-.04,.06,-.05,.08,-.04,.06,-.05,.1,-.04,.06,-.05,.08,-.04,.06,-.05,.08,-.04,.06,-.05],
 [.05,.12,-.05,.1,-.08,.12,-.05,.1,-.06,.12,-.05,.1,-.08,.06,-.05,.1,-.06,.08,-.05,.06,-.08,.05,-.05,.3,-.1,.38,-.12,.3,-.1,.05],
 [.02,.06,-.04,.05,-.06,.04,-.05,.06,-.04,.1,.15,-.05,-.18,.25,-.1,.2,-.05,.06,-.04,.05,-.06,.04,-.05,.06,-.04,.05,-.06,.04,-.05,.06],
 [.08,.02,.06,-.04,.08,-.05,.06,-.04,.08,-.05,.06,-.04,.08,-.05,.06,-.04,.05,-.06,.08,-.04,.06,-.05,.08,-.04,.06,-.05,.1,-.04,.12,.1]
];
var ope6 = [
 [-1,1,-1.5,1.5,-1,2,-1.5,1,-2,1.5,-1,1.5,-2,1,-1.5,2,-1,1.5,-2,1,-1.5,4,-2,4.8,-2,3.5,-1.5,2,-1,1.5],
 [2,-2,4,-4.3,2,-3,2.5,-2,1.5,-2,1,-1.5,2,-1,1.5,-1.5,1,-1.5,1.5,-1,1,-1.5,1,-1.5,1.5,-1,1,-1.5,1,-1],
 [0,1.5,-1,2,-1.5,1,-1,1.5,-2,1,-1.5,2,-1,1.5,-2,1,-2.5,1.5,-1,1,-1.5,1,-1,1.5,-1,2,-1,1.5,-.5,1],
 [1,-1.5,1,-2,1.5,-1,2,-1.5,1,-1,1.5,-1,1,-1.5,1,-1,1.5,-1.5,1,-1,1.5,-1,1,-1.5,1,-1,1.5,-1,1,-1],
 [-1,2,-2.5,3,-4,2.5,-3,2,-3,1.5,-2,1,-1.5,2,-1,1.5,-2,1,-1.5,1,-2,1.5,-2.5,2,-3,3,-6,4,-5.5,2],
 [.5,-1,1.5,-1,2,-1.5,1,-1.5,1,-1,4.5,-1.5,2,-1,4,-1.5,1,-1,1.5,-1,1,-1,1.5,-1,1,-1.5,1,-1,1.5,-1],
 [2,-1,3,-2,1.5,-4.5,2,-2,1.5,-1.5,1,-2,1.5,-1.5,2,-3.5,1,-1.5,1,-1,1.5,-1,1,-1.5,1,-1,1.5,-1,1,-1]
];
var ris6 = [
 [3.3,3.42,3.28,3.38,3.3,3.36,3.3,3.37,3.31,3.36,3.3,3.37,3.31,3.36,3.3,3.37,3.31,3.36,3.31,3.37,3.3,3.36,3.3,3.38,3.28,3.4,3.3,3.42,3.28,3.35],
 [3.25,3.4,3.3,3.35,3.2,3.38,3.25,3.35,3.22,3.38,3.28,3.36,3.3,3.37,3.3,3.36,3.25,3.37,3.3,3.36,3.3,3.37,3.3,3.36,3.3,3.35,3.25,3.2,3.3,3.25],
 [3.28,3.45,3.3,3.38,3.28,3.36,3.3,3.37,3.3,3.36,3.31,3.37,3.3,3.36,3.3,3.37,3.3,3.36,3.3,3.37,3.31,3.36,3.3,3.37,3.3,3.36,3.28,3.4,3.45,3.25],
 [3.3,3.4,3.3,3.38,3.3,3.37,3.32,3.38,3.3,3.37,3.32,3.38,3.32,3.37,3.31,3.38,3.32,3.37,3.32,3.38,3.31,3.37,3.32,3.42,3.3,3.38,3.31,3.4,3.3,3.3],
 [3.3,3.38,3.28,3.4,3.3,3.45,3.3,3.48,3.3,3.4,3.25,3.45,3.3,3.36,3.28,3.37,3.3,3.36,3.3,3.37,3.3,3.36,3.3,3.38,3.3,3.36,3.22,3.42,3.3,3.35],
 [3.3,3.35,3.32,3.36,3.3,3.37,3.32,3.36,3.3,3.38,3.3,3.4,3.15,3.5,3.08,3.48,3.25,3.38,3.3,3.36,3.32,3.37,3.31,3.36,3.32,3.38,3.3,3.36,3.3,3.3],
 [3.3,3.42,3.3,3.38,3.31,3.37,3.32,3.38,3.31,3.37,3.32,3.38,3.31,3.37,3.32,3.38,3.31,3.37,3.32,3.38,3.31,3.37,3.32,3.38,3.31,3.37,3.32,3.42,3.3,3.35]
];
var twi6 = [
 [32.5,36,33,35,32.5,35,33,35,33,34.5,33,35,33.5,35,33.5,35,33,35,33,35,33,35,33,35,33,35,32.5,36,31.5,35],
 [33,35,33.5,35,33,35.5,33,35,33,35.5,33,36,31,35.5,33.5,35,33,35.5,33,35,33.5,35,33,35,33,35,33.5,35,33,35],
 [32.5,35.5,33,35,33,35,33,35.5,33,35,33,35,33,35,33,35,33,35,33,35,32.5,35,33,35,33,35,33,35.5,33,35],
 [32.5,35.5,33,35,33,35,33,35,33,35,33,35,33,35,33,35,33,35,33,35,33,35,32.5,35,33,35,33,35.5,33,35.5],
 [32,35.5,32.5,35,32.5,35,32,35,31.5,35,32.5,35.5,32.5,35,32.5,35,32.5,35,32.5,35,32.5,35,32.5,35,32.5,35,32.5,35.5,32.5,35],
 [33,35,33.5,35,33.5,35,33,35.5,33.5,35,33.5,35,33.5,35,33.5,35.5,33.5,35,33.5,35,33.5,35,33.5,35,33.5,35,33.5,35,33.5,35],
 [33,35.5,33,35,33,35,33,35,33,35,33,35,33,35,33,35,33,35,33,35,33,35,33,35,33,35,33,36,32,35]
];

var grid = [
  [she1, buc1, shi1, til1],
  [str2, pro2, sli2, rol2],
  [sta3, ope3, ris3, twi3],
  [she4, buc4, shi4, til4],
  [str5, pro5, sli5, rol5],
  [sta6, ope6, ris6, twi6]
];

var width = 586, height = 678;
var colLeft = [32, 177.5, 323.5, 469.5];
var pw = 122, ph = 93.5;

var svg = d3.select("body")
    .append("svg")
    .attr("width", width)
    .attr("height", height);

svg.append("text")
    .attr("x", 311)
    .attr("y", 3)
    .attr("text-anchor", "middle")
    .attr("font-family", "Liberation Serif, serif")
    .attr("font-weight", "bold")
    .attr("font-size", 22)
    .text("Results");

var x = d3.scaleLinear().domain([0, 150]).range([0, pw]);

grid.forEach(function(row, r) {
    row.forEach(function(runs, c) {
        var t = (r % 3) * 4 + c;
        var left = colLeft[c], top = 14 + r * 112.2;
        var y = d3.scaleLinear().domain(yDomains[t]).range([ph, 0]);
        var fmt = d3.format("." + yDecimals[t] + "f");

        var g = svg.append("g").attr("transform", "translate(" + left + "," + top + ")");
        var clipId = "clip" + r + "_" + c;
        g.append("clipPath").attr("id", clipId)
            .append("rect").attr("width", pw).attr("height", ph);

        g.append("text")
            .attr("x", pw / 2)
            .attr("y", -3)
            .attr("text-anchor", "middle")
            .attr("font-family", "DejaVu Sans, sans-serif")
            .attr("font-size", 5.5)
            .attr("fill", "#222")
            .text(titles[t]);

        var plot = g.append("g").attr("clip-path", "url(#" + clipId + ")");

        // dotted limit lines
        limits[t].forEach(function(v) {
            plot.append("line")
                .attr("x1", 0).attr("x2", pw)
                .attr("y1", y(v)).attr("y2", y(v))
                .attr("stroke", "#ff6a6a")
                .attr("stroke-width", 1)
                .attr("stroke-dasharray", "1.2,1.6")
                .attr("opacity", 0.8);
        });

        var line = d3.line()
            .defined(function(d) { return d[0] !== undefined && d[1] !== undefined; })
            .x(function(d) { return x(d[0]); })
            .y(function(d) { return y(d[1]); })
            .curve(d3.curveMonotoneX);

        runs.forEach(function(vals, k) {
            var pts = vals.map(function(v, i) { return [xs[i], v]; });
            plot.append("path")
                .attr("d", line(pts))
                .attr("fill", "none")
                .attr("stroke", colors[k])
                .attr("stroke-width", 0.85)
                .attr("opacity", k == 6 ? 0.7 : 0.8);
        });

        // axes, ticks pointing inwards on all four sides
        g.append("g")
            .call(d3.axisLeft(y).tickValues(yTicks[t]).tickFormat(fmt).tickSize(-3).tickPadding(3))
            .call(function(a) { a.select(".domain").remove(); })
            .call(function(a) { a.selectAll("text").attr("font-size", 7); a.selectAll("line").attr("stroke", "#444"); });
        g.append("g").attr("transform", "translate(" + pw + ",0)")
            .call(d3.axisRight(y).tickValues(yTicks[t]).tickFormat("").tickSize(-3))
            .call(function(a) { a.select(".domain").remove(); a.selectAll("line").attr("stroke", "#444"); });
        g.append("g").attr("transform", "translate(0," + ph + ")")
            .call(d3.axisBottom(x).tickValues(xTicks).tickFormat(d3.format("d")).tickSize(-3).tickPadding(2))
            .call(function(a) { a.select(".domain").remove(); })
            .call(function(a) { a.selectAll("text").attr("font-size", 7); a.selectAll("line").attr("stroke", "#444"); });
        g.append("g")
            .call(d3.axisTop(x).tickValues(xTicks).tickFormat("").tickSize(-3))
            .call(function(a) { a.select(".domain").remove(); a.selectAll("line").attr("stroke", "#444"); });

        g.append("rect")
            .attr("width", pw).attr("height", ph)
            .attr("fill", "none")
            .attr("stroke", "#555")
            .attr("stroke-width", 1);
    });
});
</script>
</body>
</html>
